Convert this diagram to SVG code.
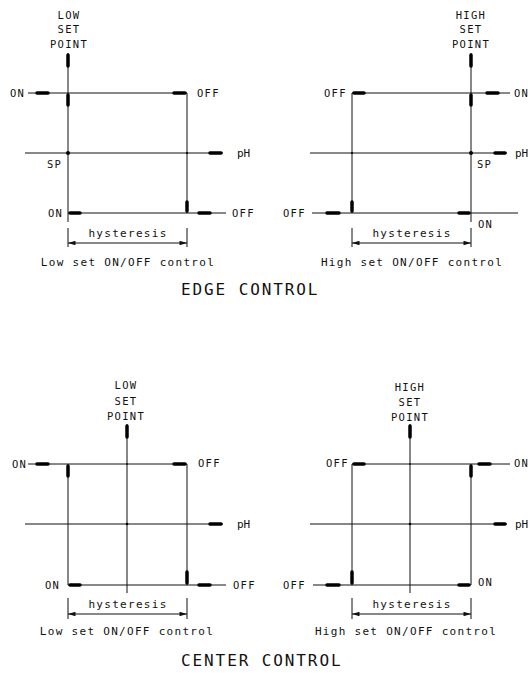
<svg xmlns="http://www.w3.org/2000/svg" width="531" height="673" viewBox="0 0 531 673">
<defs>
<style>
.t{stroke:#111;stroke-width:1;fill:none}
.k{stroke:#000;stroke-width:3.5;stroke-linecap:round;fill:none}
.lbl{font-family:"DejaVu Sans Mono","Liberation Mono",monospace;font-size:10.5px;letter-spacing:1.3px;fill:#111}
.sm{font-family:"DejaVu Sans Mono","Liberation Mono",monospace;font-size:11px;letter-spacing:1.3px;fill:#111}
.ph{font-family:"DejaVu Sans Mono","Liberation Mono",monospace;font-size:11px;letter-spacing:0px;fill:#111}
.ttl{font-family:"DejaVu Sans Mono","Liberation Mono",monospace;font-size:16px;letter-spacing:1.9px;fill:#111}
.m{text-anchor:middle}
.ar{stroke:#111;stroke-width:1;fill:none;marker-start:url(#ah);marker-end:url(#ah)}
</style>
<marker id="ah" viewBox="0 0 10 6" refX="10" refY="3" markerWidth="8" markerHeight="4.5" markerUnits="userSpaceOnUse" orient="auto-start-reverse">
<path d="M0,0 L10,3 L0,6 z" fill="#111"/>
</marker>
</defs>
<rect width="531" height="673" fill="#fff"/>

<!-- Top-left: Low set, edge control -->
<g id="edge-low">
<g class="t">
<line x1="28" y1="93" x2="187" y2="93"/>
<line x1="68" y1="53" x2="68" y2="222"/>
<line x1="187" y1="93" x2="187" y2="213"/>
<line x1="25" y1="153" x2="223" y2="153"/>
<line x1="68" y1="213" x2="226" y2="213"/>
<line x1="68" y1="228" x2="68" y2="247"/>
<line x1="187" y1="228" x2="187" y2="247"/>
</g>
<line class="ar" x1="68" y1="243" x2="187" y2="243"/>
<g class="k">
<line x1="68" y1="55" x2="68" y2="66"/>
<line x1="37" y1="93" x2="48" y2="93"/>
<line x1="68" y1="95" x2="68" y2="105"/>
<line x1="174" y1="93" x2="185" y2="93"/>
<line x1="210" y1="153" x2="221" y2="153"/>
<line x1="70" y1="213" x2="80" y2="213"/>
<line x1="187" y1="202" x2="187" y2="211"/>
<line x1="199" y1="213" x2="210" y2="213"/>
</g>
<circle cx="68" cy="153" r="2" fill="#000"/>
<circle cx="187" cy="153" r="1" fill="#000"/>
<text class="lbl m" x="69" y="19">LOW</text>
<text class="lbl m" x="69" y="33">SET</text>
<text class="lbl m" x="69" y="47.5">POINT</text>
<text class="lbl" x="10" y="97">ON</text>
<text class="lbl" x="197" y="97">OFF</text>
<text class="ph" x="237" y="157">pH</text>
<text class="lbl" x="47" y="168">SP</text>
<text class="lbl" x="48" y="217">ON</text>
<text class="lbl" x="232" y="217">OFF</text>
<text class="sm m" x="128" y="237">hysteresis</text>
<text class="sm m" x="128" y="266">Low set ON/OFF control</text>
</g>

<!-- Top-right: High set, edge control -->
<g id="edge-high">
<g class="t">
<line x1="352" y1="93" x2="510" y2="93"/>
<line x1="471" y1="53" x2="471" y2="222"/>
<line x1="352" y1="93" x2="352" y2="213"/>
<line x1="310" y1="153" x2="507" y2="153"/>
<line x1="312" y1="213" x2="518" y2="213"/>
<line x1="352" y1="228" x2="352" y2="247"/>
<line x1="471" y1="228" x2="471" y2="247"/>
</g>
<line class="ar" x1="352" y1="243" x2="471" y2="243"/>
<g class="k">
<line x1="471" y1="55" x2="471" y2="66"/>
<line x1="354" y1="93" x2="364" y2="93"/>
<line x1="471" y1="95" x2="471" y2="105"/>
<line x1="487" y1="93" x2="498" y2="93"/>
<line x1="495" y1="153" x2="505" y2="153"/>
<line x1="327" y1="213" x2="339" y2="213"/>
<line x1="352" y1="202" x2="352" y2="211"/>
<line x1="459" y1="213" x2="469" y2="213"/>
</g>
<circle cx="471" cy="153" r="2" fill="#000"/>
<circle cx="352" cy="153" r="1" fill="#000"/>
<text class="lbl m" x="471" y="19">HIGH</text>
<text class="lbl m" x="471" y="33">SET</text>
<text class="lbl m" x="471" y="47.5">POINT</text>
<text class="lbl" x="324" y="97">OFF</text>
<text class="lbl" x="514" y="97">ON</text>
<text class="ph" x="515" y="157">pH</text>
<text class="lbl" x="477" y="168">SP</text>
<text class="lbl" x="283" y="217">OFF</text>
<text class="lbl" x="478" y="228">ON</text>
<text class="sm m" x="412" y="237">hysteresis</text>
<text class="sm m" x="412" y="266">High set ON/OFF control</text>
</g>

<text id="edge-title" class="ttl" x="181" y="295">EDGE CONTROL</text>

<!-- Bottom-left: Low set, center control -->
<g id="center-low">
<g class="t">
<line x1="28" y1="464" x2="187" y2="464"/>
<line x1="68" y1="464" x2="68" y2="585"/>
<line x1="127" y1="424" x2="127" y2="593"/>
<line x1="187" y1="464" x2="187" y2="585"/>
<line x1="25" y1="524" x2="223" y2="524"/>
<line x1="68" y1="585" x2="226" y2="585"/>
<line x1="68" y1="598" x2="68" y2="619"/>
<line x1="187" y1="598" x2="187" y2="619"/>
</g>
<line class="ar" x1="68" y1="614" x2="187" y2="614"/>
<g class="k">
<line x1="127" y1="426" x2="127" y2="437"/>
<line x1="37" y1="464" x2="48" y2="464"/>
<line x1="68" y1="466" x2="68" y2="476"/>
<line x1="174" y1="464" x2="185" y2="464"/>
<line x1="210" y1="524" x2="221" y2="524"/>
<line x1="70" y1="585" x2="80" y2="585"/>
<line x1="187" y1="572" x2="187" y2="583"/>
<line x1="199" y1="585" x2="210" y2="585"/>
</g>
<circle cx="127" cy="524" r="1.3" fill="#000"/>
<circle cx="127" cy="464" r="0.8" fill="#000"/>
<text class="lbl m" x="126" y="389">LOW</text>
<text class="lbl m" x="126" y="405">SET</text>
<text class="lbl m" x="126" y="419.5">POINT</text>
<text class="lbl" x="12" y="468">ON</text>
<text class="lbl" x="198" y="467">OFF</text>
<text class="ph" x="237" y="528">pH</text>
<text class="lbl" x="45" y="589">ON</text>
<text class="lbl" x="233" y="589">OFF</text>
<text class="sm m" x="128" y="608">hysteresis</text>
<text class="sm m" x="127" y="635">Low set ON/OFF control</text>
</g>

<!-- Bottom-right: High set, center control -->
<g id="center-high">
<g class="t">
<line x1="352" y1="464" x2="510" y2="464"/>
<line x1="352" y1="464" x2="352" y2="585"/>
<line x1="410" y1="424" x2="410" y2="593"/>
<line x1="471" y1="464" x2="471" y2="585"/>
<line x1="310" y1="524" x2="507" y2="524"/>
<line x1="313" y1="585" x2="471" y2="585"/>
<line x1="352" y1="598" x2="352" y2="619"/>
<line x1="471" y1="598" x2="471" y2="619"/>
</g>
<line class="ar" x1="352" y1="614" x2="471" y2="614"/>
<g class="k">
<line x1="410" y1="426" x2="410" y2="437"/>
<line x1="354" y1="464" x2="364" y2="464"/>
<line x1="471" y1="466" x2="471" y2="476"/>
<line x1="479" y1="464" x2="490" y2="464"/>
<line x1="495" y1="524" x2="505" y2="524"/>
<line x1="327" y1="585" x2="339" y2="585"/>
<line x1="352" y1="572" x2="352" y2="583"/>
<line x1="459" y1="585" x2="469" y2="585"/>
</g>
<circle cx="410" cy="524" r="1.3" fill="#000"/>
<circle cx="410" cy="464" r="0.8" fill="#000"/>
<text class="lbl m" x="410" y="391">HIGH</text>
<text class="lbl m" x="410" y="406">SET</text>
<text class="lbl m" x="410" y="421">POINT</text>
<text class="lbl" x="326" y="467">OFF</text>
<text class="lbl" x="514" y="467">ON</text>
<text class="ph" x="515" y="528">pH</text>
<text class="lbl" x="283" y="589">OFF</text>
<text class="lbl" x="478" y="586">ON</text>
<text class="sm m" x="412" y="608">hysteresis</text>
<text class="sm m" x="406" y="635">High set ON/OFF control</text>
</g>

<text id="center-title" class="ttl" x="181" y="666">CENTER CONTROL</text>
</svg>
